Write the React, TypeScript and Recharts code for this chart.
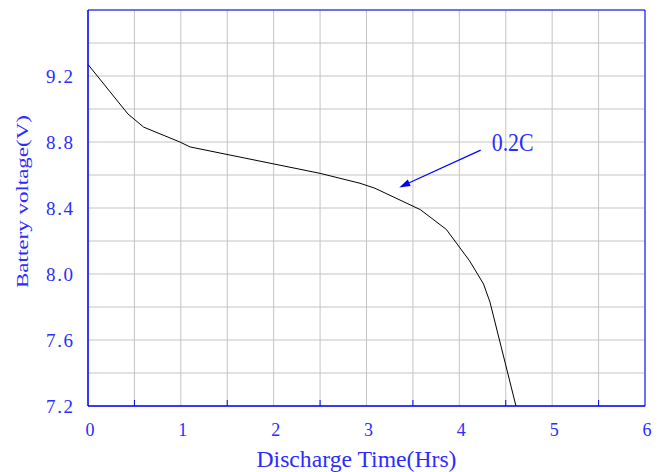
import React from 'react';
import { LineChart, Line, XAxis, YAxis, CartesianGrid, ReferenceArea, ReferenceLine } from 'recharts';

const times = [0, 0.43, 0.6, 0.99, 1.1, 2.5, 2.93, 3.09, 3.58, 3.86, 4.11, 4.26, 4.33, 4.61];
const volts = [9.27, 8.97, 8.89, 8.8, 8.77, 8.61, 8.55, 8.52, 8.39, 8.27, 8.08, 7.94, 7.83, 7.2];

const xTicks = [0, 0.5, 1, 1.5, 2, 2.5, 3, 3.5, 4, 4.5, 5, 5.5, 6];
const yTicks = [7.2, 7.4, 7.6, 7.8, 8.0, 8.2, 8.4, 8.6, 8.8, 9.0, 9.2, 9.4, 9.6];
const yTickLabels = [7.2, 7.6, 8.0, 8.4, 8.8, 9.2];

const arrowStart = { t: 4.23, v: 8.751 };
const arrowEnd = { t: 3.353, v: 8.525 };
const annotationText = '0.2C';

const data = times.map((t, i) => ({ t, v: volts[i] }));

const BLUE = '#0000ff';
const TEXT_BLUE = '#2c2cff';
const FONT = '"Liberation Serif", "DejaVu Serif", serif';

const XTick = (props: any) => {
  const { x, y, payload } = props;
  const v = payload.value;
  if (Math.abs(v - Math.round(v)) < 1e-6) {
    return (
      <text x={x + 2} y={y + 30} textAnchor="middle" fill={TEXT_BLUE} fontSize={19} fontFamily={FONT}
        textLength={9} lengthAdjust="spacingAndGlyphs">
        {Math.round(v)}
      </text>
    );
  }
  return <line x1={x} y1={y} x2={x} y2={y - 6} stroke={BLUE} strokeWidth={1} />;
};

const YTick = (props: any) => {
  const { x, y, payload } = props;
  const v = payload.value;
  if (!yTickLabels.some((l) => Math.abs(l - v) < 1e-6)) return <g />;
  return (
    <text x={x} y={y + 6.5} textAnchor="end" fill={TEXT_BLUE} fontSize={19} fontFamily={FONT} textLength={27}>
      {v.toFixed(1)}
    </text>
  );
};

const XLabel = (props: any) => {
  const vb = props.viewBox || {};
  const cx = vb.x + vb.width / 2 - 10;
  return (
    <text x={cx} y={vb.y + 61} textAnchor="middle" fill={TEXT_BLUE} fontSize={23} fontFamily={FONT}
      textLength={200} lengthAdjust="spacingAndGlyphs">
      Discharge Time(Hrs)
    </text>
  );
};

const YLabel = (props: any) => {
  const vb = props.viewBox || {};
  const cx = 22;
  const cy = vb.y + vb.height / 2 - 6.5;
  return (
    <text x={cx} y={cy} textAnchor="middle" dominantBaseline="central" fill={TEXT_BLUE} fontSize={17}
      fontFamily={FONT} textLength={173} lengthAdjust="spacingAndGlyphs" transform={`rotate(-90, ${cx}, ${cy})`}>
      Battery voltage(V)
    </text>
  );
};

const ArrowShape = (props: any) => {
  const { x1, y1, x2, y2 } = props;
  if ([x1, y1, x2, y2].some((n) => typeof n !== 'number' || isNaN(n))) return <g />;
  const dx = x2 - x1;
  const dy = y2 - y1;
  const len = Math.sqrt(dx * dx + dy * dy);
  const ux = dx / len;
  const uy = dy / len;
  const hl = 11;
  const hw = 3.5;
  const bx = x2 - ux * hl;
  const by = y2 - uy * hl;
  const p1 = `${bx - uy * hw},${by + ux * hw}`;
  const p2 = `${bx + uy * hw},${by - ux * hw}`;
  return (
    <g>
      <line x1={x1} y1={y1} x2={bx} y2={by} stroke={BLUE} strokeWidth={1.2} />
      <polygon points={`${x2},${y2} ${p1} ${p2}`} fill={BLUE} />
      <text x={x1 + 11} y={y1 + 1} fill={TEXT_BLUE} fontSize={25} fontFamily={FONT} textLength={42}
        lengthAdjust="spacingAndGlyphs">
        {annotationText}
      </text>
    </g>
  );
};

export default function App() {
  return (
    <div style={{ position: 'absolute', left: 0, top: 0, background: '#fff' }}>
      <LineChart width={665} height={472} data={data} margin={{ top: 10, right: 20, left: 0, bottom: 0 }}>
        <CartesianGrid stroke="#c4c4c4" strokeWidth={1} />
        <XAxis
          dataKey="t"
          type="number"
          domain={[0, 6]}
          ticks={xTicks}
          interval={0}
          height={66}
          tickSize={0}
          tickMargin={0}
          tickLine={false}
          axisLine={{ stroke: BLUE }}
          tick={<XTick />}
          label={<XLabel />}
        />
        <YAxis
          type="number"
          domain={[7.2, 9.6]}
          ticks={yTicks}
          interval={0}
          width={88}
          tickSize={0}
          tickMargin={15}
          tickLine={false}
          axisLine={{ stroke: BLUE }}
          tick={<YTick />}
          label={<YLabel />}
          allowDataOverflow
        />
        <ReferenceArea x1={0} x2={6} y1={7.2} y2={9.6} fill="none" stroke={BLUE} strokeWidth={1} fillOpacity={0} />
        <Line dataKey="v" stroke="#000" strokeWidth={1} dot={false} isAnimationActive={false} type="linear" />
        <ReferenceLine
          segment={[{ x: arrowStart.t, y: arrowStart.v }, { x: arrowEnd.t, y: arrowEnd.v }]}
          shape={<ArrowShape />}
          ifOverflow="visible"
        />
      </LineChart>
    </div>
  );
}
